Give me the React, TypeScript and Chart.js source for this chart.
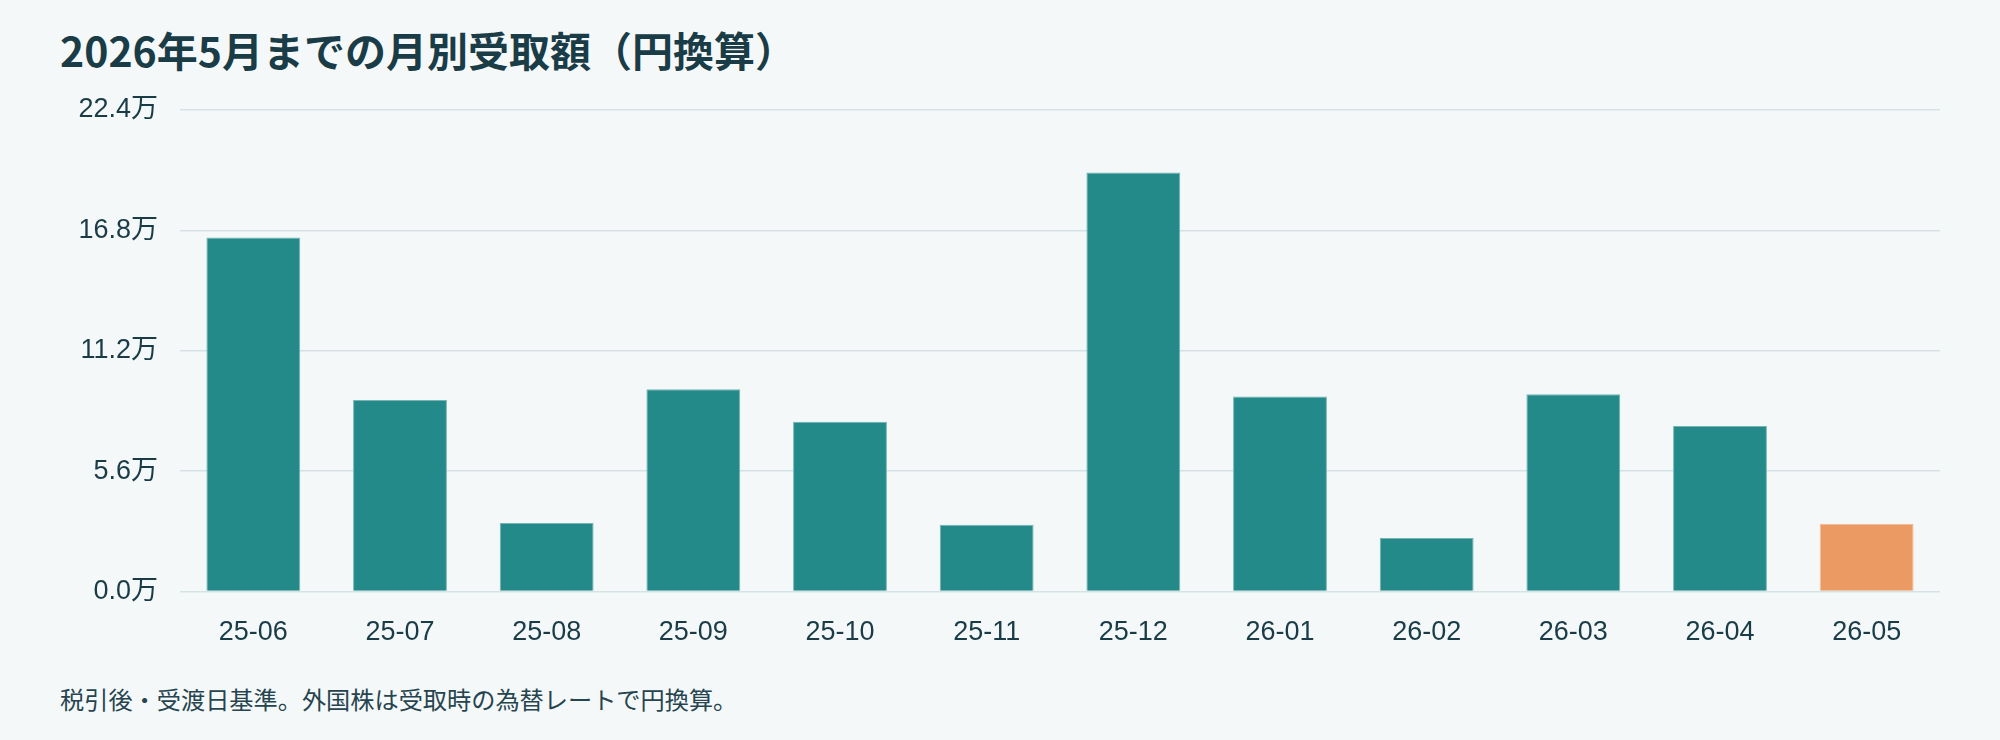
import React, { useEffect, useRef } from 'react';
import { Chart, registerables } from 'chart.js';

Chart.register(...registerables);

// monthly amounts received, in yen
const months = ['25-06', '25-07', '25-08', '25-09', '25-10', '25-11', '25-12', '26-01', '26-02', '26-03', '26-04', '26-05'];
const amounts = [164700, 89100, 31900, 94100, 79000, 31100, 194900, 90700, 24900, 91800, 77000, 31600];
const yTicks = [0, 56000, 112000, 168000, 224000];

const TEAL = '#248a89';
const ORANGE = '#eb9a63';
const INK = '#1a3c47';
const BG = '#f4f8f9';
const tickFont = '"Liberation Sans", "Noto Sans CJK JP", sans-serif';

const App: React.FC = () => {
    const chartRef = useRef<HTMLCanvasElement | null>(null);
    const chartInstanceRef = useRef<Chart | null>(null);

    useEffect(() => {
        document.body.style.margin = '0';
        document.body.style.background = BG;
        const canvas = chartRef.current;
        if (!canvas) return;

        // the last month is the current (partial) one
        const lastIdx = months.length - 1;

        chartInstanceRef.current = new Chart(canvas, {
            type: 'bar',
            data: {
                labels: months,
                datasets: [
                    {
                        data: amounts,
                        backgroundColor: months.map((_, i) => (i === lastIdx ? ORANGE : TEAL)),
                        borderColor: months.map((_, i) => (i === lastIdx ? '#f4bb94' : '#74b3b2')),
                        borderWidth: 1,
                        categoryPercentage: 0.8,
                        barPercentage: 0.8,
                    },
                ],
            },
            options: {
                animation: false,
                responsive: true,
                maintainAspectRatio: false,
                layout: { padding: { top: 20, right: 0, bottom: 0, left: 0 } },
                plugins: {
                    legend: { display: false },
                    tooltip: { enabled: false },
                },
                scales: {
                    x: {
                        grid: { display: false, drawTicks: false },
                        border: { display: false },
                        ticks: {
                            color: INK,
                            padding: 25,
                            font: { family: tickFont, size: 27 },
                            maxRotation: 0,
                        },
                    },
                    y: {
                        min: yTicks[0],
                        max: yTicks[yTicks.length - 1],
                        afterBuildTicks: (scale: any) => {
                            scale.ticks = yTicks.map((v) => ({ value: v }));
                        },
                        afterFit: (scale: any) => {
                            scale.width = 120;
                        },
                        // invisible tick marks keep the gap between labels and grid
                        grid: { color: '#d4e1e5', lineWidth: 1.5, drawTicks: true, tickLength: 22, tickColor: 'transparent' },
                        border: { display: false },
                        ticks: {
                            color: INK,
                            padding: 0,
                            font: { family: tickFont, size: 27 },
                            callback: (v: any) => (Number(v) / 10000).toFixed(1) + '万',
                        },
                    },
                },
            },
        });

        return () => {
            if (chartInstanceRef.current) {
                chartInstanceRef.current.destroy();
                chartInstanceRef.current = null;
            }
        };
    }, []);

    return (
        <div style={{ position: 'relative', width: 2000, height: 740, background: BG, overflow: 'hidden' }}>
            <div
                style={{
                    position: 'absolute',
                    left: 60,
                    top: 29,
                    fontFamily: '"Noto Sans CJK JP", sans-serif',
                    fontWeight: 700,
                    fontSize: 41,
                    lineHeight: '41px',
                    color: INK,
                    whiteSpace: 'nowrap',
                }}
            >
                2026年5月までの月別受取額（円換算）
            </div>
            <div style={{ position: 'absolute', left: 60, top: 90, width: 1880, height: 584 }}>
                <canvas ref={chartRef} />
            </div>
            <div
                style={{
                    position: 'absolute',
                    left: 60,
                    top: 687,
                    fontFamily: '"Noto Sans CJK JP", sans-serif',
                    fontSize: 24.2,
                    lineHeight: '24px',
                    color: '#26444e',
                    whiteSpace: 'nowrap',
                }}
            >
                税引後・受渡日基準。外国株は受取時の為替レートで円換算。
            </div>
        </div>
    );
};

export default App;
